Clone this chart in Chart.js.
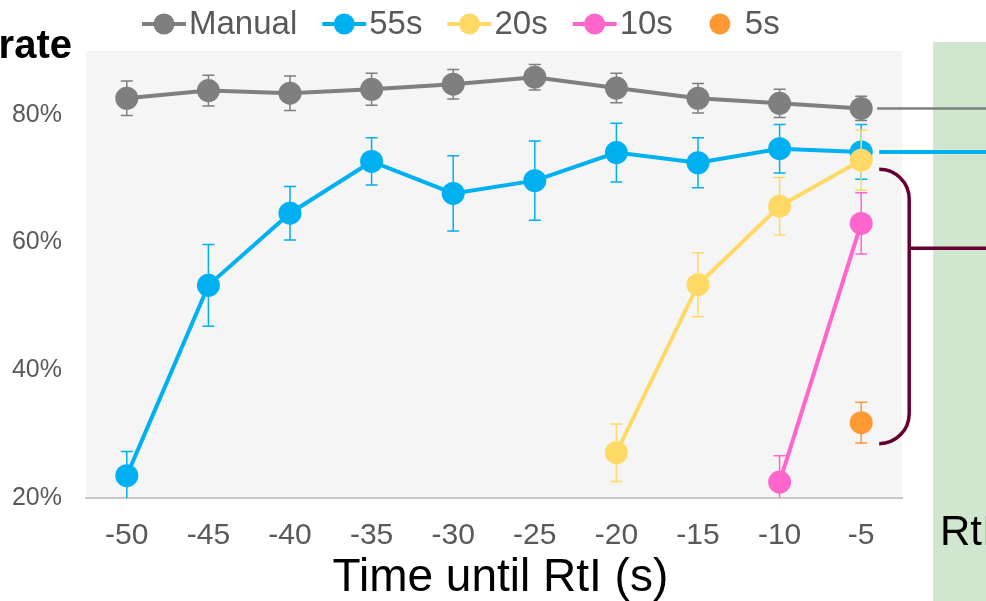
<!DOCTYPE html>
<html lang="en">
  <head>
    <meta charset="UTF-8" />
    <title>Rate until RtI</title>
    <style>
      * {
        margin: 0;
        padding: 0;
        box-sizing: border-box;
      }
      body {
        background: white;
      }
      .chartBox {
        width: 986px;
        height: 601px;
        position: relative;
      }
    </style>
  </head>
  <body>
    <div class="chartBox">
      <canvas id="myChart"></canvas>
    </div>

    <script src="https://cdn.jsdelivr.net/npm/chart.js"></script>

    <script>
      const timeLabels = ["-50", "-45", "-40", "-35", "-30", "-25", "-20", "-15", "-10", "-5"];
      const seriesNames = ["Manual", "55s", "20s", "10s", "5s"];

      const manualRate = [82.6, 83.8, 83.4, 84.0, 84.8, 85.9, 84.2, 82.6, 81.8, 81.0];
      const manualErr = [2.7, 2.4, 2.7, 2.5, 2.3, 2.0, 2.3, 2.3, 2.2, 1.9];

      const rate55 = [23.5, 53.3, 64.6, 72.7, 67.7, 69.7, 74.1, 72.5, 74.7, 74.2];
      const err55 = [3.8, 6.4, 4.2, 3.7, 5.9, 6.2, 4.6, 3.9, 3.8, 4.3];

      const rate20 = [null, null, null, null, null, null, 27.1, 53.4, 65.7, 72.9];
      const err20 = [null, null, null, null, null, null, 4.5, 5.0, 4.5, 4.7];

      const rate10 = [null, null, null, null, null, null, null, null, 22.5, 63.0];
      const err10 = [null, null, null, null, null, null, null, null, 4.1, 4.8];

      const rate5 = [null, null, null, null, null, null, null, null, null, 31.8];
      const err5 = [null, null, null, null, null, null, null, null, null, 3.2];

      const FONT = "'Liberation Sans', Arial, sans-serif";
      const colors = ["#7f7f7f", "#00b0f0", "#ffd966", "#ff66cc", "#ff9933"];
      const errors = [manualErr, err55, err20, err10, err5];

      const ctx = document.getElementById("myChart");

      const makeSet = (i, values, showLine) => ({
        label: seriesNames[i],
        data: values,
        borderColor: colors[i],
        backgroundColor: colors[i],
        borderWidth: 4,
        pointRadius: 11.5,
        pointBorderWidth: 0,
        pointHoverRadius: 11.5,
        showLine: showLine,
        order: 5 - i,
      });

      const data = {
        labels: timeLabels,
        datasets: [
          makeSet(0, manualRate, true),
          makeSet(1, rate55, true),
          makeSet(2, rate20, true),
          makeSet(3, rate10, true),
          makeSet(4, rate5, false),
        ],
      };

      // grey plot background, green side panel and the cut-off titles
      const backdrop = {
        id: "backdrop",
        beforeDraw(chart) {
          const { ctx, chartArea, width } = chart;
          ctx.save();
          ctx.fillStyle = "#f5f5f5";
          ctx.fillRect(chartArea.left, chartArea.top, chartArea.right - chartArea.left, chartArea.bottom - chartArea.top);

          ctx.fillStyle = "#d0e6cf";
          ctx.fillRect(933, 42, width - 933, chart.height - 42);

          ctx.fillStyle = "#000";
          ctx.font = "bold 40px " + FONT;
          ctx.textAlign = "right";
          ctx.textBaseline = "alphabetic";
          ctx.fillText("rate", 72, 58);

          ctx.font = "42px " + FONT;
          ctx.textAlign = "left";
          ctx.fillText("RtI", 940, 545);
          ctx.restore();
        },
      };

      // error bars, drawn just under each dataset
      const errorBars = {
        id: "errorBars",
        beforeDatasetDraw(chart, args) {
          const { ctx, chartArea, scales } = chart;
          const i = args.index;
          const ds = chart.data.datasets[i];
          const err = errors[i];
          ctx.save();
          ctx.beginPath();
          ctx.rect(chartArea.left, chartArea.top, chartArea.right - chartArea.left, chartArea.bottom - chartArea.top);
          ctx.clip();
          ctx.strokeStyle = colors[i];
          ctx.lineWidth = 1.5;
          ds.data.forEach((v, j) => {
            if (v === null || err[j] === null) return;
            const x = scales.x.getPixelForValue(j);
            const yTop = scales.y.getPixelForValue(v + err[j]);
            const yBot = scales.y.getPixelForValue(v - err[j]);
            ctx.beginPath();
            ctx.moveTo(x, yTop);
            ctx.lineTo(x, yBot);
            ctx.moveTo(x - 6, yTop);
            ctx.lineTo(x + 6, yTop);
            ctx.moveTo(x - 6, yBot);
            ctx.lineTo(x + 6, yBot);
            ctx.stroke();
          });
          ctx.restore();
        },
      };

      // leader lines and bracket going off to the right
      const leaders = {
        id: "leaders",
        afterDatasetsDraw(chart) {
          const { ctx, scales, width } = chart;
          const last = timeLabels.length - 1;
          const px = scales.x.getPixelForValue(last);
          ctx.save();

          ctx.strokeStyle = colors[0];
          ctx.lineWidth = 2.5;
          ctx.beginPath();
          const yMan = scales.y.getPixelForValue(manualRate[last]);
          ctx.moveTo(px + 16, yMan);
          ctx.lineTo(width, yMan);
          ctx.stroke();

          ctx.strokeStyle = colors[1];
          ctx.lineWidth = 4;
          ctx.beginPath();
          const y55 = scales.y.getPixelForValue(rate55[last]);
          ctx.moveTo(px + 18, y55);
          ctx.lineTo(width, y55);
          ctx.stroke();

          const top = scales.y.getPixelForValue(rate20[last]) + 9;
          const bottom = scales.y.getPixelForValue(rate5[last]) + 21;
          const x0 = px + 18;
          const r = 30;
          ctx.strokeStyle = "#660033";
          ctx.lineWidth = 3.5;
          ctx.beginPath();
          ctx.moveTo(x0, top);
          ctx.arc(x0, top + r, r, -Math.PI / 2, 0);
          ctx.lineTo(x0 + r, bottom - r);
          ctx.arc(x0, bottom - r, r, 0, Math.PI / 2);
          ctx.stroke();
          ctx.beginPath();
          ctx.moveTo(x0 + r, top + 79);
          ctx.lineTo(width, top + 79);
          ctx.stroke();
          ctx.restore();
        },
      };

      // legend with line + dot markers
      const lineLegend = {
        id: "lineLegend",
        afterDraw(chart) {
          const { ctx } = chart;
          ctx.save();
          ctx.font = "33px " + FONT;
          ctx.textBaseline = "middle";
          ctx.textAlign = "left";
          let x = 142;
          const y = 24;
          chart.data.datasets.forEach((ds, i) => {
            if (ds.showLine) {
              ctx.strokeStyle = colors[i];
              ctx.lineWidth = 4;
              ctx.beginPath();
              ctx.moveTo(x, y);
              ctx.lineTo(x + 44, y);
              ctx.stroke();
            }
            ctx.fillStyle = colors[i];
            ctx.beginPath();
            ctx.arc(x + 22, y, 10.5, 0, Math.PI * 2);
            ctx.fill();
            ctx.fillStyle = "#595959";
            ctx.fillText(ds.label, x + 47, y + 1);
            x += 47 + ctx.measureText(ds.label).width + 25;
          });
          ctx.restore();
        },
      };

      const config = {
        type: "line",
        data: data,
        options: {
          responsive: true,
          maintainAspectRatio: false,
          animation: false,
          layout: {
            padding: { top: 51, right: 84, left: 0, bottom: 0 },
          },
          scales: {
            x: {
              offset: true,
              grid: { display: false, drawTicks: false },
              border: { display: true, color: "#c8c8c8", width: 2 },
              ticks: {
                color: "#595959",
                font: { family: FONT, size: 30 },
                padding: 20,
                maxRotation: 0,
              },
              title: {
                display: true,
                text: " Time until RtI (s)",
                color: "#000",
                font: { family: FONT, size: 46, lineHeight: 1 },
                padding: 0,
              },
              afterFit: (s) => {
                s.height = 103;
              },
            },
            y: {
              min: 20,
              max: 90,
              grid: { display: false, drawTicks: false },
              border: { display: false },
              ticks: {
                stepSize: 20,
                includeBounds: false,
                color: "#595959",
                font: { family: FONT, size: 25 },
                padding: 24,
                callback: (v) => v + "%",
              },
              afterFit: (s) => {
                s.width = 86;
              },
            },
          },
          plugins: {
            legend: { display: false },
            tooltip: { enabled: false },
          },
        },
        plugins: [backdrop, errorBars, leaders, lineLegend],
      };

      const myChart = new Chart(ctx, config);
    </script>
  </body>
</html>
